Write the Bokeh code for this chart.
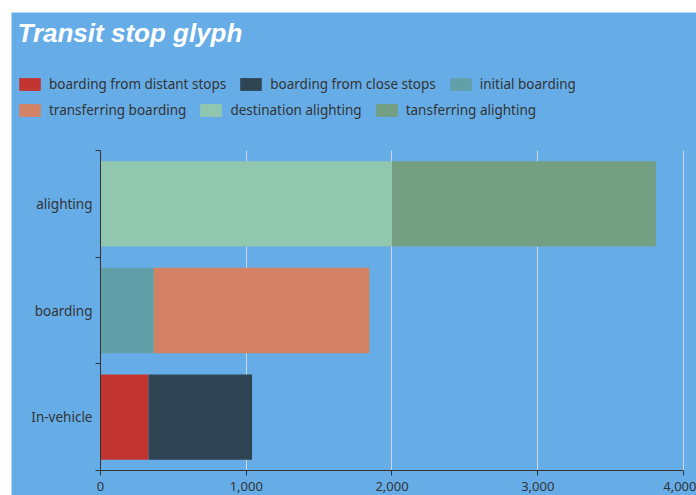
from bokeh.plotting import figure
from bokeh.models import Legend, LegendItem, FixedTicker, NumeralTickFormatter, Range1d, Label
from bokeh.embed import file_html
from bokeh.resources import INLINE

categories = ["In-vehicle", "boarding", "alighting"]
series_names = ["boarding from distant stops", "boarding from close stops", "initial boarding",
                "transferring boarding", "destination alighting", "tansferring alighting"]
distant = [330, 0, 0]
close = [710, 0, 0]
initial = [0, 365, 0]
transferring = [0, 1480, 0]
destination = [0, 0, 2000]
tansferring = [0, 0, 1810]
series_values = [distant, close, initial, transferring, destination, tansferring]
colors = ["#c23531", "#2f4554", "#61a0a8", "#d48265", "#91c7ae", "#749f83"]
x_ticks = [0, 1000, 2000, 3000, 4000]
title_text = "Transit stop glyph"

BG = "#66ade8"
TXT = "#333333"
GRID = "#c9d7e6"
n = len(categories)

# The frame spans the whole canvas so the header (title + legend) is not clipped;
# the axes are pinned to the data origin and bounded to the data extent.
p = figure(width=685, height=483, output_backend="svg", toolbar_location=None,
           x_range=Range1d(-610.6, 4089.2), y_range=Range1d(-0.234, n + 1.294))
p.margin = (12, 0, 0, 11)
p.min_border = 0
p.background_fill_color = BG
p.border_fill_color = BG
p.outline_line_color = None

y_pos = [i + 0.5 for i in range(n)]

# vertical grid lines, limited to the category band
grid = p.xgrid[0]
grid.ticker = FixedTicker(ticks=x_ticks)
grid.grid_line_color = GRID
if "cross_bounds" in grid.properties():
    grid.cross_bounds = (0, n)
else:
    grid.visible = False
    p.segment(x0=x_ticks, x1=x_ticks, y0=[0] * len(x_ticks), y1=[n] * len(x_ticks),
              line_color=GRID, line_width=1, level="underlay")
p.ygrid.grid_line_color = None

data = {"y": y_pos}
for name, vals in zip(series_names, series_values):
    data[name] = vals
renderers = p.hbar_stack(series_names, y="y", height=0.8, color=colors, line_color=None, source=data)

xa = p.xaxis[0]
ya = p.yaxis[0]
xa.fixed_location = 0
xa.bounds = (x_ticks[0], x_ticks[-1])
ya.fixed_location = 0
ya.bounds = (0, n)

xa.ticker = FixedTicker(ticks=x_ticks)
xa.formatter = NumeralTickFormatter(format="0,0")
ya.ticker = FixedTicker(ticks=y_pos, minor_ticks=list(range(n + 1)))
ya.major_label_overrides = {y: c for y, c in zip(y_pos, categories)}
for ax in (xa, ya):
    ax.axis_line_color = TXT
    ax.major_label_text_color = TXT
    ax.major_label_text_font = "Noto Sans"
    ax.major_tick_line_color = TXT
    ax.major_tick_in = 0
xa.major_label_text_font_size = "13px"
ya.major_label_text_font_size = "13.5px"
xa.major_tick_out = 5
xa.minor_tick_line_color = None
xa.major_label_standoff = 6
ya.major_tick_line_color = None
ya.major_tick_out = 0
ya.minor_tick_line_color = TXT
ya.minor_tick_out = 5
ya.minor_tick_in = 0
ya.major_label_standoff = 3

title = Label(x=6, y=463, x_units="screen", y_units="screen", text=title_text,
              text_color="white", text_font="Liberation Sans", text_font_size="26px",
              text_font_style="bold italic", text_baseline="alphabetic")
p.add_layout(title)

rows = [[0, 1, 2], [3, 4, 5]]
locs = [(5, 402), (5, 376)]
for row, loc in zip(rows, locs):
    leg = Legend(items=[LegendItem(label=series_names[i], renderers=[renderers[i]]) for i in row],
                 orientation="horizontal", location=loc)
    leg.background_fill_alpha = 0
    leg.border_line_color = None
    leg.label_text_font = "Noto Sans"
    leg.label_text_font_size = "13.5px"
    leg.label_text_color = TXT
    leg.glyph_width = 27
    leg.glyph_height = 16
    leg.label_standoff = 6
    leg.spacing = 11
    leg.padding = 0
    leg.margin = 0
    leg.label_height = 16
    p.add_layout(leg)

open("out.html", "w").write(file_html(p, INLINE))
